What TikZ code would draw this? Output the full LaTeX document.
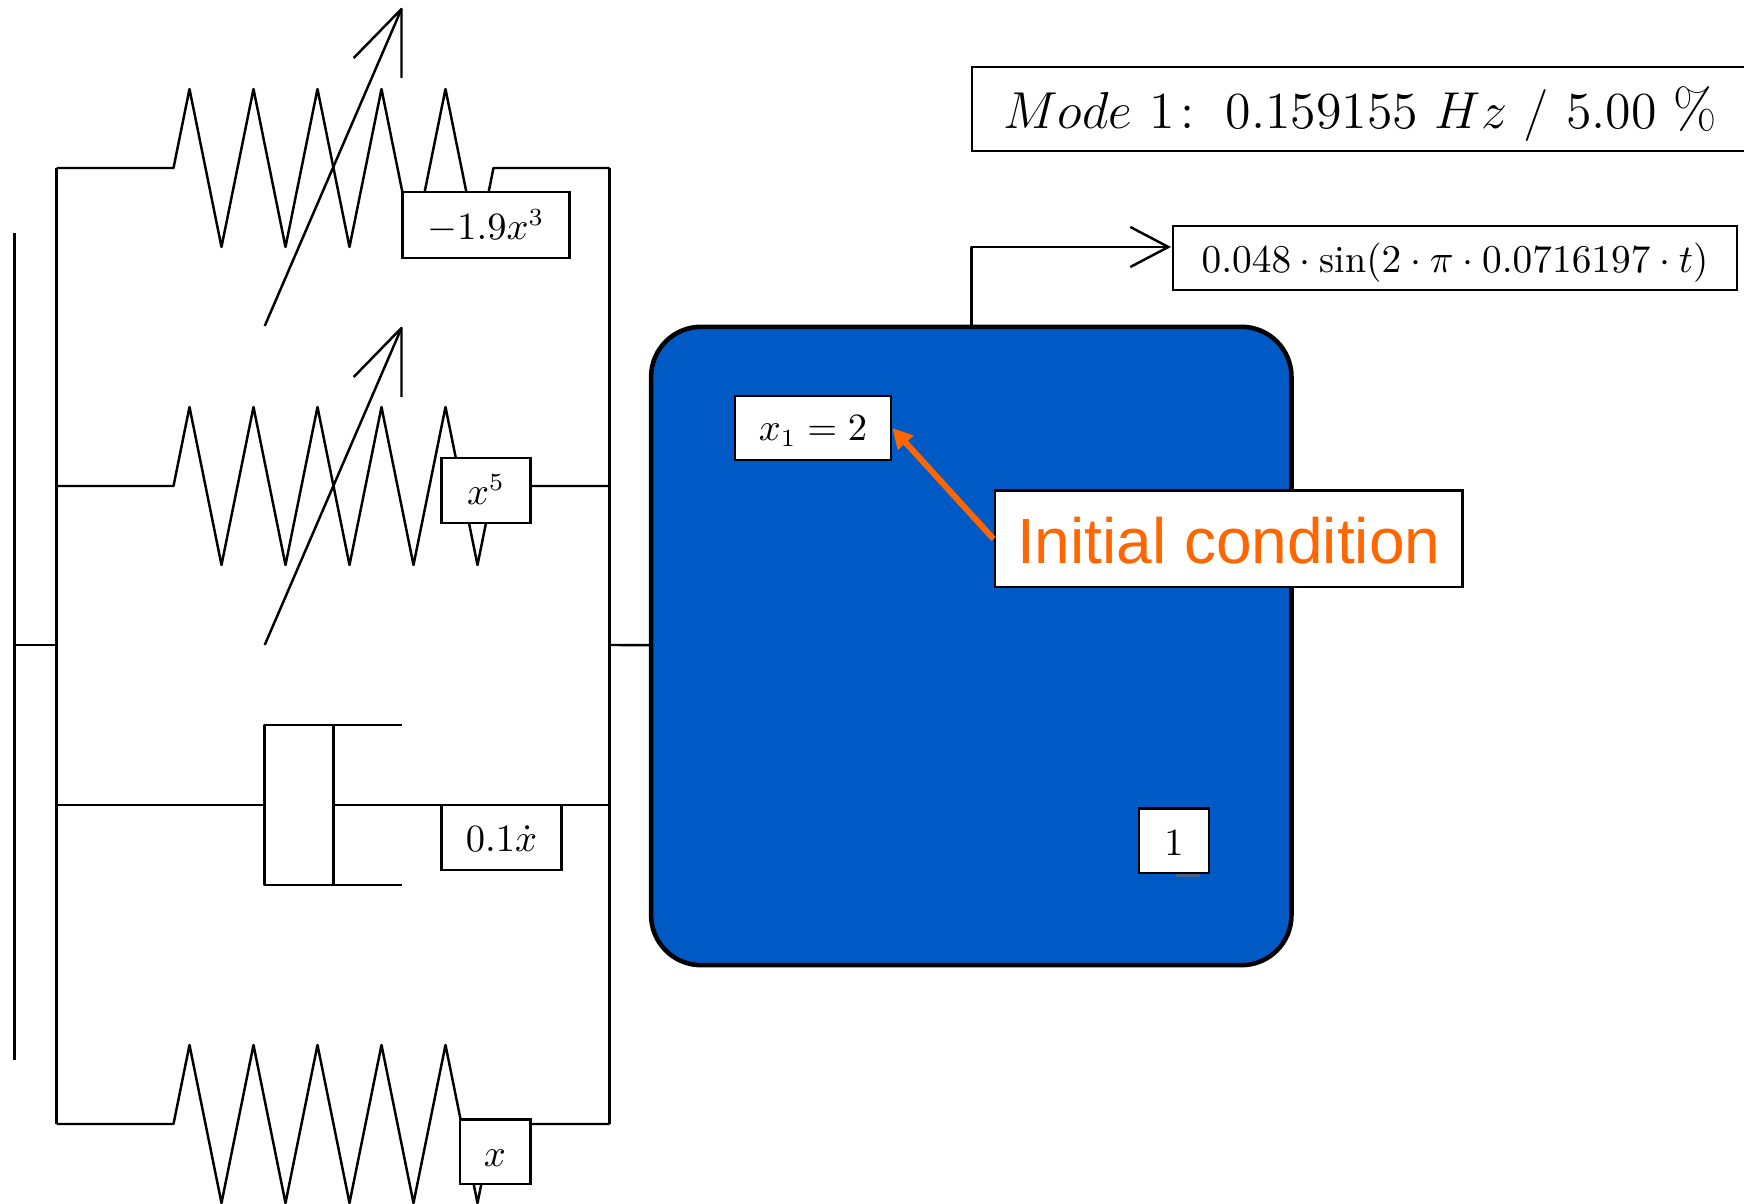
\documentclass[tikz,border=0pt]{standalone}
\usepackage{amsmath}
\usepackage{fontspec}
\usepackage{tikz}
\usetikzlibrary{arrows.meta,positioning}
\newfontfamily\labelfont{Liberation Sans}
\definecolor{bluefill}{RGB}{0,90,197}
\definecolor{icorange}{RGB}{255,102,0}
\definecolor{tabgrey}{RGB}{70,100,140}

\begin{document}
\begin{tikzpicture}[x=0.01cm,y=-0.01cm]
\tikzstyle{wire}=[draw=black,line width=.7pt,line join=round]
\tikzstyle{wall}=[draw=black,line width=1pt]
\tikzstyle{valuebox}=[draw=black,fill=white,line width=.7pt,inner sep=0pt,text height=8pt,text depth=0pt,font=\fontsize{10.6}{12}\selectfont]
\tikzstyle{arrow}=[wire,-{Straight Barb[length=.38cm,width=.4cm,line width=.7pt]}]
\tikzstyle{icarrow}=[draw=icorange,line width=1.7pt,-{Triangle[length=.2cm,width=.2cm]}]
\useasboundingbox (0,0) rectangle (1744,1204);
% wall and frame
\coordinate (w1) at (14.5,233);
\coordinate (w2) at (14.5,1060);
\coordinate (wm) at (14.5,645);
\coordinate (fm) at (56.7,645);
\coordinate (gm) at (609.5,645);
\coordinate (f1) at (56.7,168);
\coordinate (f2) at (56.7,486);
\coordinate (f3) at (56.7,805);
\coordinate (f4) at (56.7,1124);
\coordinate (g1) at (609.5,168);
\coordinate (g2) at (609.5,486);
\coordinate (g3) at (609.5,805);
\coordinate (g4) at (609.5,1124);
\draw [wall] (w1) -- (w2);
\draw [wire] (wm) -- (fm);
\draw [wire] (f1) -- (f4);
\draw [wire] (g1) -- (g4);
% springs
\draw [wire] (f1) -- (173.5,168) -- ++(16,-79) -- ++(32,158) -- ++(32,-158) -- ++(32,158) -- ++(32,-158) -- ++(32,158) -- ++(32,-158) -- ++(32,158) -- ++(32,-158) -- ++(32,158) -- ++(16,-79) -- (g1);
\draw [wire] (f2) -- (173.5,486) -- ++(16,-79) -- ++(32,158) -- ++(32,-158) -- ++(32,158) -- ++(32,-158) -- ++(32,158) -- ++(32,-158) -- ++(32,158) -- ++(32,-158) -- ++(32,158) -- ++(16,-79) -- (g2);
\draw [wire] (f4) -- (173.5,1124) -- ++(16,-79) -- ++(32,158) -- ++(32,-158) -- ++(32,158) -- ++(32,-158) -- ++(32,158) -- ++(32,-158) -- ++(32,158) -- ++(32,-158) -- ++(32,158) -- ++(16,-79) -- (g4);
% adjustable arrows
\coordinate (t1) at (401.5,9);
\coordinate (t2) at (401.5,328);
\draw [wire] (264.7,326) -- (t1);
\draw [wire] (353.7,58) -- (t1) -- (401.5,78);
\draw [wire] (264.7,645) -- (t2);
\draw [wire] (353.7,377) -- (t2) -- (401.5,397);
% damper
\coordinate (c1) at (264.7,805);
\coordinate (c2) at (333.6,805);
\draw [wire] (f3) -- (c1);
\draw [wire] (c2) -- (g3);
\draw [wire] (401.5,725) -- (264.7,725) -- (264.7,885) -- (401.5,885);
\draw [wire] (333.6,725) -- (333.6,885);
% mass
\node [draw=black,fill=bluefill,line width=1.3pt,rounded corners=.5cm,minimum width=6.4cm,minimum height=6.38cm,inner sep=0pt] at (971.3,646) (mass) {};
\draw [wire] (gm) -- (mass);
\fill [tabgrey] (1176,870) rectangle (1200,877.5);
% value boxes
\node [valuebox,minimum width=1.67cm,minimum height=.655cm] at (486,225) (k1) {$-1.9x^3$};
\node [valuebox,minimum width=.89cm,minimum height=.65cm] at (486,490.5) (k2) {$x^5$};
\node [valuebox,minimum width=1.2cm,minimum height=.65cm] at (501.5,837.5) (c3) {$0.1\dot{x}$};
\node [valuebox,minimum width=.705cm,minimum height=.645cm] at (495,1152) (k3) {$x$};
\node [valuebox,minimum width=1.56cm,minimum height=.64cm,text height=7.2pt] at (813,428) (x1) {$x_1=2$};
\node [valuebox,minimum width=.7cm,minimum height=.645cm] at (1174,841) (m1) {$1$};
\node [valuebox,minimum width=5.64cm,minimum height=.64cm] at (1455,258) (load) {\scalebox{1.022}{$0.048\cdot\sin(2\cdot\pi\cdot0.0716197\cdot t)$}};
\node [valuebox,minimum width=7.76cm,minimum height=.84cm,text height=11pt,font=\fontsize{15.5}{18}\selectfont] at (1360,109) (mode) {\scalebox{1.026}{$Mode\ 1\!:\ 0.159155\ Hz\ /\ 5.00\ \%$}};
\node [valuebox,minimum width=4.675cm,minimum height=.965cm,text=icorange,text height=13.8pt,font=\labelfont\fontsize{18.2}{22}\selectfont] at (1228.7,539) (ic) {Initial condition};
% connectors
\coordinate (o1) at (1171,247);
\draw [arrow] (mass.north) |- (o1);
\draw [icarrow] (ic.west) -- (x1.east);
\end{tikzpicture}
\end{document}
